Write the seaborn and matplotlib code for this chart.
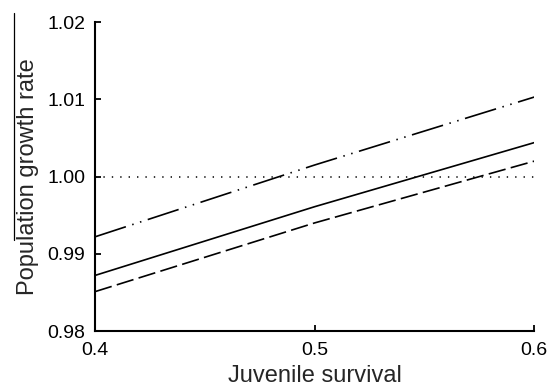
import matplotlib
matplotlib.use("Agg")
import matplotlib.pyplot as plt
import seaborn as sns
import pandas as pd
from matplotlib.lines import Line2D

juvenile_survival = [0.4, 0.5, 0.6]
growth_dashdot = [0.9922, 1.0015, 1.0103]
growth_solid = [0.9872, 0.9961, 1.0044]
growth_dashed = [0.9851, 0.9940, 1.0020]

x_ticks = [0.4, 0.5, 0.6]
x_ticklabels = ["0.4", "0.5", "0.6"]
y_ticks = [0.98, 0.99, 1.00, 1.01, 1.02]
y_ticklabels = ["0.98", "0.99", "1.00", "1.01", "1.02"]

sns.set_style("ticks")
plt.rcParams['font.family'] = ['Liberation Sans', 'DejaVu Sans']

fig = plt.figure(figsize=(5.49, 3.89), dpi=100)
ax = fig.add_axes([0.173, 0.149, 0.8, 0.794])

lw = 1.2
sns.lineplot(x=juvenile_survival, y=growth_dashdot, ax=ax, color="black", lw=lw,
             linestyle=(0, (19.5, 4.0, 0.9, 4.0, 0.9, 4.0)))
sns.lineplot(x=juvenile_survival, y=growth_solid, ax=ax, color="black", lw=lw,
             linestyle="-")
sns.lineplot(x=juvenile_survival, y=growth_dashed, ax=ax, color="black", lw=lw,
             linestyle=(0, (10.5, 3.2)))
ax.axhline(1.0, color="black", lw=1.1, linestyle=(0, (0.9, 4.6)))

ax.set_xlim(0.4, 0.6)
ax.set_ylim(0.98, 1.02)
ax.set_xticks(x_ticks)
ax.set_xticklabels(x_ticklabels)
ax.set_yticks(y_ticks)
ax.set_yticklabels(y_ticklabels)
ax.tick_params(direction="in", length=4, width=1.3, labelsize=14, colors="black")
ax.tick_params(axis="y", pad=7)
ax.tick_params(axis="x", pad=8)
for s in ["top", "right"]:
    ax.spines[s].set_visible(False)
for s in ["left", "bottom"]:
    ax.spines[s].set_linewidth(1.5)
    ax.spines[s].set_color("black")

ax.set_xlabel("Juvenile survival", fontsize=17, labelpad=4)
ax.set_ylabel("Population growth rate", fontsize=17, labelpad=6)

# overline fragment seen beside the y label
fig.add_artist(Line2D([13.5/549, 13.5/549], [1-13/389, 1-240/389], color="black", lw=0.9,
                      transform=fig.transFigure))

fig.savefig("out.png", dpi=100)
